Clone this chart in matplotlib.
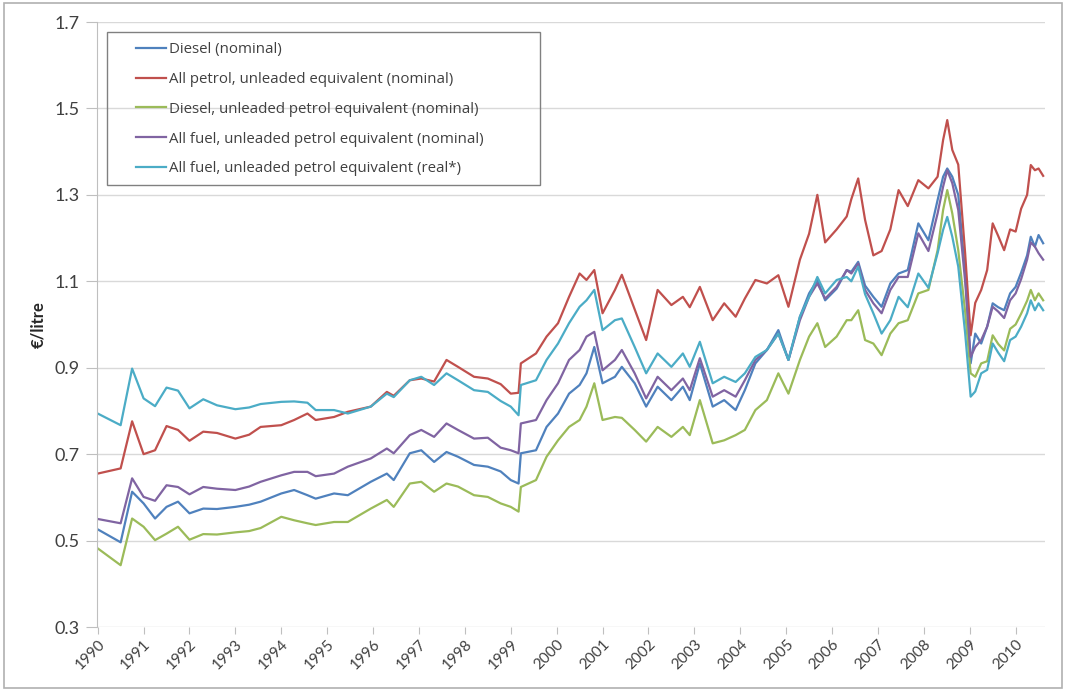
import numpy as np
import matplotlib.pyplot as plt
from matplotlib.patches import Rectangle

# sample dates (decimal years)
years = [1990.0, 1990.5, 1990.75, 1991.0, 1991.25, 1991.5, 1991.75, 1992.0, 1992.3, 1992.6,
         1993.0, 1993.3, 1993.55, 1994.0, 1994.28, 1994.57, 1994.75, 1995.15, 1995.45, 1995.95,
         1996.3, 1996.45, 1996.8, 1997.05, 1997.33, 1997.6, 1997.85, 1998.2, 1998.5, 1998.78,
         1999.0, 1999.17, 1999.22, 1999.55, 1999.78, 2000.03, 2000.27, 2000.5, 2000.65, 2000.82,
         2001.0, 2001.27, 2001.42, 2001.7, 2001.95, 2002.2, 2002.5, 2002.75, 2002.9, 2003.12,
         2003.4, 2003.65, 2003.9, 2004.1, 2004.33, 2004.58, 2004.83, 2005.05, 2005.3, 2005.5,
         2005.68, 2005.85, 2006.1, 2006.32, 2006.42, 2006.57, 2006.72, 2006.9, 2007.08, 2007.27,
         2007.45, 2007.65, 2007.88, 2008.1, 2008.3, 2008.42, 2008.51, 2008.62, 2008.75, 2008.9,
         2009.02, 2009.12, 2009.25, 2009.38, 2009.5, 2009.62, 2009.75, 2009.88, 2010.0, 2010.12,
         2010.25, 2010.33, 2010.42, 2010.5, 2010.6]

diesel_nom = [0.526, 0.496, 0.613, 0.586, 0.551, 0.578, 0.590, 0.563, 0.574, 0.573,
              0.578, 0.583, 0.590, 0.609, 0.617, 0.605, 0.597, 0.609, 0.605, 0.636,
              0.655, 0.640, 0.702, 0.709, 0.682, 0.705, 0.694, 0.675, 0.671, 0.660,
              0.640, 0.632, 0.702, 0.709, 0.763, 0.794, 0.840, 0.860, 0.887, 0.948,
              0.864, 0.879, 0.902, 0.864, 0.810, 0.856, 0.825, 0.856, 0.825, 0.910,
              0.810, 0.825, 0.802, 0.848, 0.910, 0.941, 0.987, 0.918, 1.018, 1.072,
              1.103, 1.056, 1.083, 1.126, 1.122, 1.145, 1.090, 1.064, 1.041, 1.095,
              1.118, 1.126, 1.234, 1.195, 1.288, 1.342, 1.361, 1.342, 1.300, 1.120,
              0.910, 0.979, 0.956, 0.995, 1.049, 1.040, 1.033, 1.072, 1.087, 1.120,
              1.160, 1.203, 1.180, 1.207, 1.188]

petrol_nom = [0.655, 0.667, 0.776, 0.700, 0.709, 0.765, 0.756, 0.731, 0.752, 0.749,
              0.736, 0.745, 0.763, 0.767, 0.779, 0.794, 0.779, 0.786, 0.798, 0.810,
              0.844, 0.835, 0.871, 0.875, 0.868, 0.918, 0.902, 0.879, 0.875, 0.862,
              0.840, 0.842, 0.910, 0.933, 0.972, 1.003, 1.064, 1.118, 1.103, 1.126,
              1.026, 1.080, 1.115, 1.035, 0.964, 1.080, 1.045, 1.064, 1.040, 1.087,
              1.010, 1.049, 1.018, 1.060, 1.103, 1.095, 1.114, 1.041, 1.150, 1.210,
              1.300, 1.190, 1.220, 1.250, 1.290, 1.338, 1.242, 1.160, 1.170, 1.220,
              1.311, 1.274, 1.334, 1.315, 1.342, 1.427, 1.473, 1.404, 1.370, 1.165,
              0.975, 1.050, 1.080, 1.126, 1.234, 1.205, 1.172, 1.220, 1.215, 1.268,
              1.300, 1.369, 1.357, 1.361, 1.344]

diesel_ule = [0.482, 0.443, 0.551, 0.532, 0.501, 0.516, 0.532, 0.502, 0.515, 0.514,
              0.519, 0.522, 0.529, 0.555, 0.547, 0.540, 0.536, 0.543, 0.543, 0.574,
              0.594, 0.578, 0.632, 0.636, 0.613, 0.632, 0.625, 0.605, 0.601, 0.586,
              0.578, 0.567, 0.624, 0.640, 0.694, 0.732, 0.763, 0.779, 0.810, 0.864,
              0.779, 0.786, 0.784, 0.756, 0.729, 0.763, 0.740, 0.763, 0.744, 0.825,
              0.725, 0.732, 0.744, 0.756, 0.802, 0.825, 0.887, 0.840, 0.918, 0.972,
              1.003, 0.948, 0.972, 1.010, 1.010, 1.033, 0.964, 0.956, 0.929, 0.979,
              1.003, 1.010, 1.072, 1.080, 1.172, 1.265, 1.311, 1.257, 1.172, 1.030,
              0.887, 0.879, 0.910, 0.915, 0.975, 0.955, 0.940, 0.990, 1.000, 1.025,
              1.055, 1.080, 1.056, 1.072, 1.056]

allfuel_nom = [0.550, 0.540, 0.644, 0.601, 0.592, 0.628, 0.624, 0.607, 0.624, 0.620,
               0.617, 0.625, 0.636, 0.651, 0.659, 0.659, 0.649, 0.655, 0.671, 0.690,
               0.713, 0.702, 0.744, 0.756, 0.740, 0.771, 0.756, 0.736, 0.738, 0.715,
               0.709, 0.702, 0.771, 0.779, 0.825, 0.864, 0.918, 0.941, 0.972, 0.983,
               0.894, 0.918, 0.941, 0.887, 0.829, 0.879, 0.848, 0.875, 0.848, 0.922,
               0.833, 0.848, 0.833, 0.871, 0.918, 0.941, 0.979, 0.918, 1.010, 1.064,
               1.095, 1.060, 1.087, 1.126, 1.118, 1.141, 1.080, 1.049, 1.026, 1.080,
               1.110, 1.110, 1.211, 1.170, 1.257, 1.319, 1.357, 1.327, 1.265, 1.100,
               0.925, 0.948, 0.964, 0.995, 1.041, 1.030, 1.015, 1.056, 1.072, 1.105,
               1.150, 1.190, 1.180, 1.165, 1.150]

allfuel_real = [0.794, 0.767, 0.898, 0.829, 0.811, 0.854, 0.847, 0.806, 0.827, 0.813,
                0.804, 0.808, 0.816, 0.821, 0.822, 0.819, 0.802, 0.802, 0.794, 0.810,
                0.840, 0.832, 0.871, 0.879, 0.860, 0.887, 0.871, 0.848, 0.844, 0.823,
                0.810, 0.790, 0.860, 0.871, 0.918, 0.956, 1.003, 1.041, 1.056, 1.080,
                0.987, 1.010, 1.014, 0.948, 0.887, 0.933, 0.902, 0.933, 0.902, 0.960,
                0.864, 0.879, 0.867, 0.887, 0.925, 0.941, 0.979, 0.918, 1.018, 1.064,
                1.110, 1.072, 1.103, 1.110, 1.100, 1.134, 1.070, 1.026, 0.979, 1.010,
                1.064, 1.040, 1.118, 1.085, 1.165, 1.219, 1.249, 1.203, 1.134, 0.980,
                0.833, 0.845, 0.887, 0.895, 0.956, 0.935, 0.915, 0.964, 0.972, 0.995,
                1.026, 1.056, 1.033, 1.049, 1.033]

labels = ['Diesel (nominal)',
          'All petrol, unleaded equivalent (nominal)',
          'Diesel, unleaded petrol equivalent (nominal)',
          'All fuel, unleaded petrol equivalent (nominal)',
          'All fuel, unleaded petrol equivalent (real*)']
colors = ['#4F81BD', '#C0504D', '#9BBB59', '#8064A2', '#4BACC6']

plt.rcParams['font.family'] = ['Lato', 'DejaVu Sans']

fig = plt.figure(figsize=(10.66, 6.91), dpi=100)
# chart-area border
fig.patches.append(Rectangle((4/1066, 3/691), 1058/1066, 685/691, transform=fig.transFigure,
                             fill=False, edgecolor='#b0b0b0', lw=1.2))
ax = fig.add_axes([97/1066, 64/691, 948/1066, 605/691])

series = [diesel_nom, petrol_nom, diesel_ule, allfuel_nom, allfuel_real]
for s, lab, c in zip(series, labels, colors):
    ax.plot(years, s, color=c, lw=1.6, label=lab)

ax.set_xlim(1989.985, 2010.64)
ax.set_ylim(0.3, 1.7)
ax.set_yticks(np.arange(0.3, 1.71, 0.2))
ax.set_yticklabels(['%.1f' % v for v in np.arange(0.3, 1.71, 0.2)])
ax.set_xticks(range(1990, 2011))
ax.set_xticklabels([str(y) for y in range(1990, 2011)], rotation=45, ha='right',
                   rotation_mode='anchor')
ax.grid(axis='y', color='#d9d9d9', lw=1)
ax.set_axisbelow(True)
for sp in ['top', 'right', 'bottom']:
    ax.spines[sp].set_visible(False)
ax.spines['left'].set_color('#bfbfbf')
ax.tick_params(axis='both', colors='#bfbfbf', labelcolor='#404040')
ax.tick_params(axis='x', labelsize=11, length=5, pad=2)
ax.tick_params(axis='y', labelsize=13, length=8, pad=4.5)
ax.set_ylabel('€/litre', fontsize=12, fontweight='bold', color='#262626', labelpad=6)

# legend box drawn separately so the entries can sit inset like the original
ax.add_patch(Rectangle((10/948, 442/605), 433/948, 153/605, transform=ax.transAxes,
                       fill=False, edgecolor='#808080', lw=1, zorder=5))
leg = ax.legend(loc='upper left', bbox_to_anchor=(39/948, 585/605), frameon=False,
                prop={'family': 'Open Sans', 'size': 10.8}, labelspacing=0.99,
                handlelength=2.0, handletextpad=0.2, borderpad=0, borderaxespad=0)
for t in leg.get_texts():
    t.set_color('#404040')

fig.savefig('out.png', dpi=100)
